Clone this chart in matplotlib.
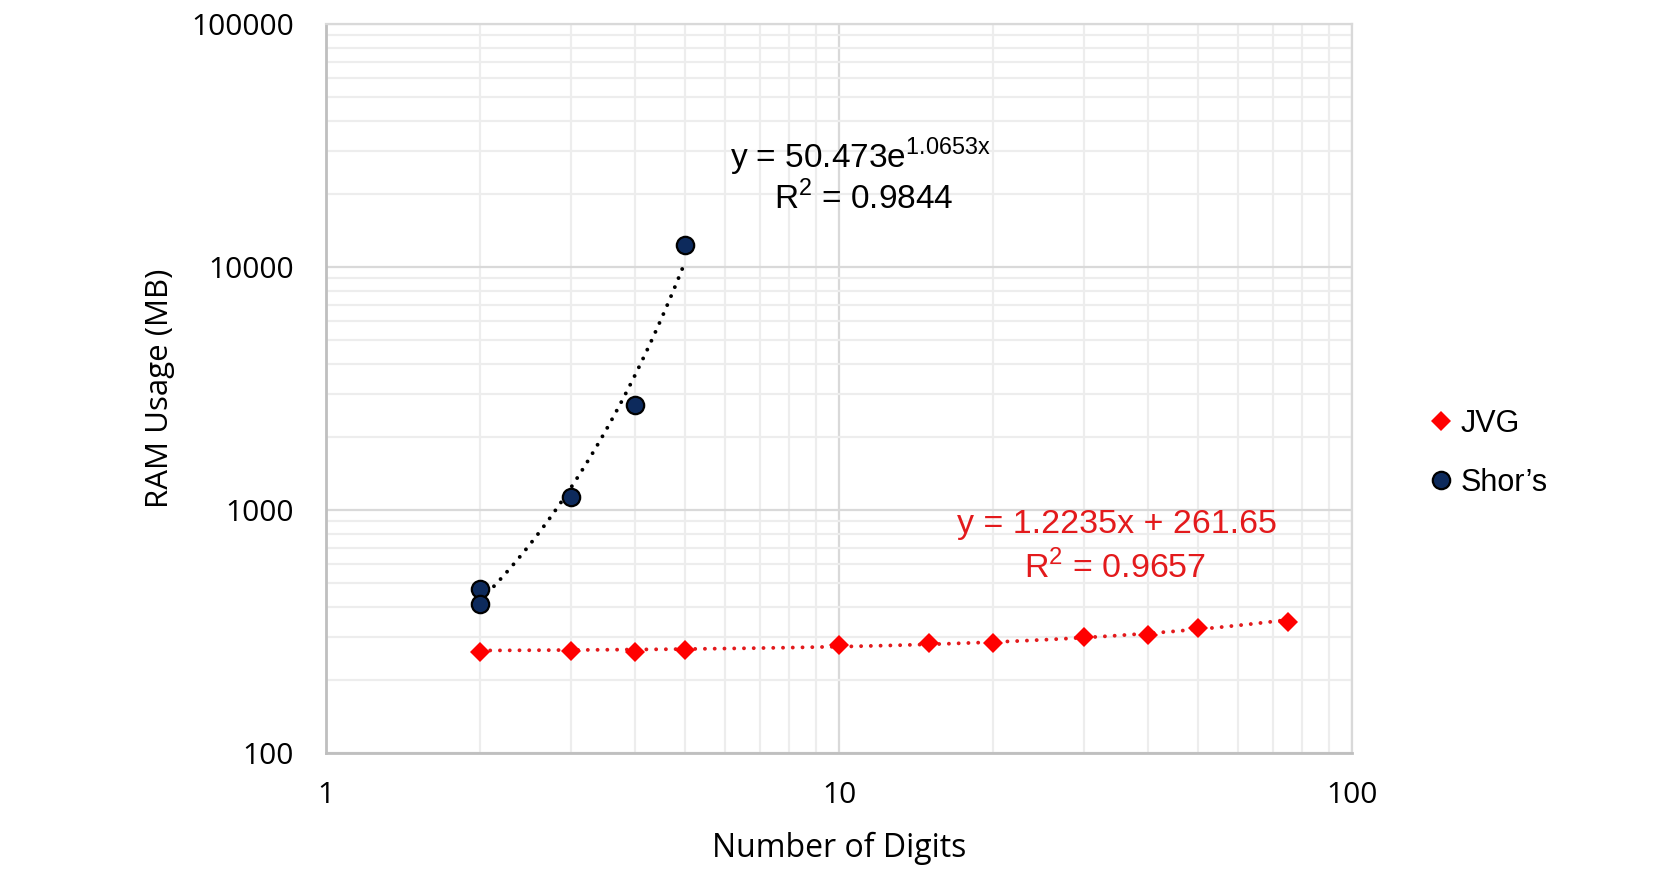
import numpy as np
import matplotlib
matplotlib.use("Agg")
import matplotlib.pyplot as plt
from matplotlib.ticker import FixedLocator, NullFormatter

plt.rcParams["font.family"] = ["Open Sans", "DejaVu Sans"]
plt.rcParams["mathtext.fontset"] = "custom"
plt.rcParams["mathtext.rm"] = "Liberation Sans"

# datos
jvg_digits = [2, 3, 4, 5, 10, 15, 20, 30, 40, 50, 75]
jvg_ram = [261, 263, 260, 266, 277, 283, 284, 299, 306, 326, 345]

shor_digits = [2, 2, 3, 4, 5]
shor_ram = [475, 412, 1135, 2710, 12280]

# lineas de tendencia (coeficientes mostrados en el grafico)
shor_a, shor_b = 50.473, 1.0653
jvg_m, jvg_c = 1.2235, 261.65

x_ticks = [1, 10, 100]
y_ticks = [100, 1000, 10000, 100000]

red = "#e31a1c"

fig = plt.figure(figsize=(16.76, 8.77), dpi=100)
ax = fig.add_axes([0.1945, 0.1414, 0.6122, 0.8312])
ax.set_xscale("log")
ax.set_yscale("log")
ax.set_xlim(1, 100)
ax.set_ylim(100, 100000)

# trendlines
xs = np.linspace(min(shor_digits), max(shor_digits), 100)
ax.plot(xs, shor_a * np.exp(shor_b * xs), color="black", lw=2.8,
        linestyle=(0, (0.01, 2.5)), dash_capstyle="round", zorder=3)
xj = np.linspace(min(jvg_digits), max(jvg_digits), 200)
ax.plot(xj, jvg_m * xj + jvg_c, color=red, lw=2.8,
        linestyle=(0, (0.01, 2.5)), dash_capstyle="round", zorder=3)

ax.plot(jvg_digits, jvg_ram, "D", color="#ff0000", markersize=10.5,
        markeredgewidth=0, label="JVG", zorder=4)
ax.plot(shor_digits, shor_ram, "o", markerfacecolor="#0d2a5c",
        markeredgecolor="black", markeredgewidth=1.6, markersize=12.5,
        label="Shor\u2019s", zorder=5)

# grid
ax.xaxis.set_major_locator(FixedLocator(x_ticks))
ax.yaxis.set_major_locator(FixedLocator(y_ticks))
ax.set_xticklabels([str(t) for t in x_ticks])
ax.set_yticklabels([str(t) for t in y_ticks])
ax.xaxis.set_minor_formatter(NullFormatter())
ax.yaxis.set_minor_formatter(NullFormatter())
ax.grid(True, which="major", color="#d9d9d9", lw=1.6)
ax.grid(True, which="minor", color="#ededed", lw=1.6)
ax.set_axisbelow(True)
ax.tick_params(which="both", length=0, labelsize=21.5, colors="black")
ax.tick_params(axis="y", pad=23)
ax.tick_params(axis="x", pad=20)

for s in ["left", "bottom"]:
    ax.spines[s].set_color("#bfbfbf")
    ax.spines[s].set_linewidth(2)
for s in ["top", "right"]:
    ax.spines[s].set_color("#d9d9d9")
    ax.spines[s].set_linewidth(1.6)

ax.set_xlabel("Number of Digits", fontsize=23, labelpad=16)
ax.set_ylabel("RAM Usage (MB)", fontsize=22.5, labelpad=12)

# ecuaciones
ax.text(0.521, 0.818, r"y = 50.473e$^{\mathrm{1.0653x}}$", transform=ax.transAxes,
        ha="center", va="center", fontsize=24, family="Liberation Sans")
ax.text(0.524, 0.761, r"R$^{\mathrm{2}}$ = 0.9844", transform=ax.transAxes,
        ha="center", va="center", fontsize=24, family="Liberation Sans")
ax.text(0.771, 0.313, "y = 1.2235x + 261.65", transform=ax.transAxes,
        ha="center", va="center", fontsize=24.5, family="Liberation Sans", color=red)
ax.text(0.769, 0.255, r"R$^{\mathrm{2}}$ = 0.9657", transform=ax.transAxes,
        ha="center", va="center", fontsize=24.5, family="Liberation Sans", color=red)

ax.legend(loc="center left", bbox_to_anchor=(1.058, 0.411), frameon=False,
          prop={"family": "Liberation Sans", "size": 22}, handletextpad=0.1,
          handlelength=1.1, labelspacing=0.95, borderaxespad=0)

fig.savefig("out.png", dpi=100, facecolor="white")
